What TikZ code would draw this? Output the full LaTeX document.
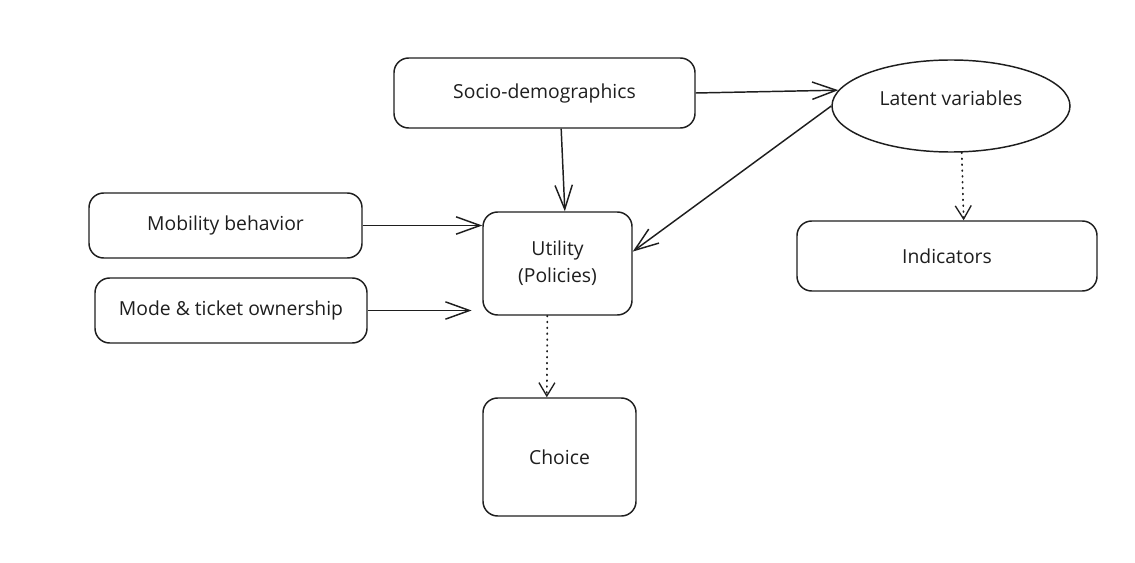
\documentclass[tikz,border=0pt]{standalone}
\usepackage{fontspec}
\setmainfont{Open Sans}
\usetikzlibrary{arrows.meta,shapes.geometric}
\definecolor{ink}{HTML}{1E1E1E}
\begin{document}
\begin{tikzpicture}[x=0.75pt,y=-0.75pt,
  box/.style={draw=ink, line width=1.1pt, rounded corners=11pt, inner sep=0pt, align=center, text=ink, font=\fontsize{14.5}{20}\selectfont},
  oval/.style={draw=ink, line width=1.1pt, ellipse, inner sep=0pt},
  lbl/.style={text=ink, font=\fontsize{14.5}{20}\selectfont, inner sep=0pt},
  arr/.style={draw=ink, line width=1.1pt, -{Straight Barb[length=18pt,width=13pt,line width=1.1pt]}},
  darr/.style={draw=ink, line width=1.3pt, line cap=round, dash pattern=on 0.6pt off 3.8pt, -{Straight Barb[length=10pt,width=12pt,line width=1pt]}}
]
\useasboundingbox (0,0) rectangle (1135,563);
\node[box, minimum width=301*0.75pt, minimum height=70*0.75pt] (socio) at (544.5,93) {Socio-demographics};
\node[oval, minimum width=238*0.75pt, minimum height=92*0.75pt] (latent) at (951,106) {};
\node[lbl] (latentlbl) at (951,98) {Latent variables};
\node[box, minimum width=300*0.75pt, minimum height=70*0.75pt] (ind) at (947,256) {Indicators};
\node[box, minimum width=273*0.75pt, minimum height=65*0.75pt] (mob) at (225.5,225.5) {Mobility behavior};
\node[box, minimum width=272*0.75pt, minimum height=65*0.75pt] (mode) at (231,310.5) {Mode \& ticket ownership};
\node[box, minimum width=149*0.75pt, minimum height=103*0.75pt] (util) at (557.5,263.5) {Utility\\(Policies)};
\node[box, minimum width=153*0.75pt, minimum height=118*0.75pt] (choice) at (559.5,457) {Choice};

\draw[arr] (socio.east) -- (latent.172);
\draw[arr] (socio.-65) -- (util.82);
\draw[arr] (mob.east) -- (mob.east -| util.west);
\draw[arr, shorten >=8pt] (mode.east) -- (mode.east -| util.west);
\draw[arr] (latent.west) -- (util.9);
\draw[darr] (util.-101) -- (choice.102);
\draw[darr] (latent.-77) -- (ind.65);
\end{tikzpicture}
\end{document}
